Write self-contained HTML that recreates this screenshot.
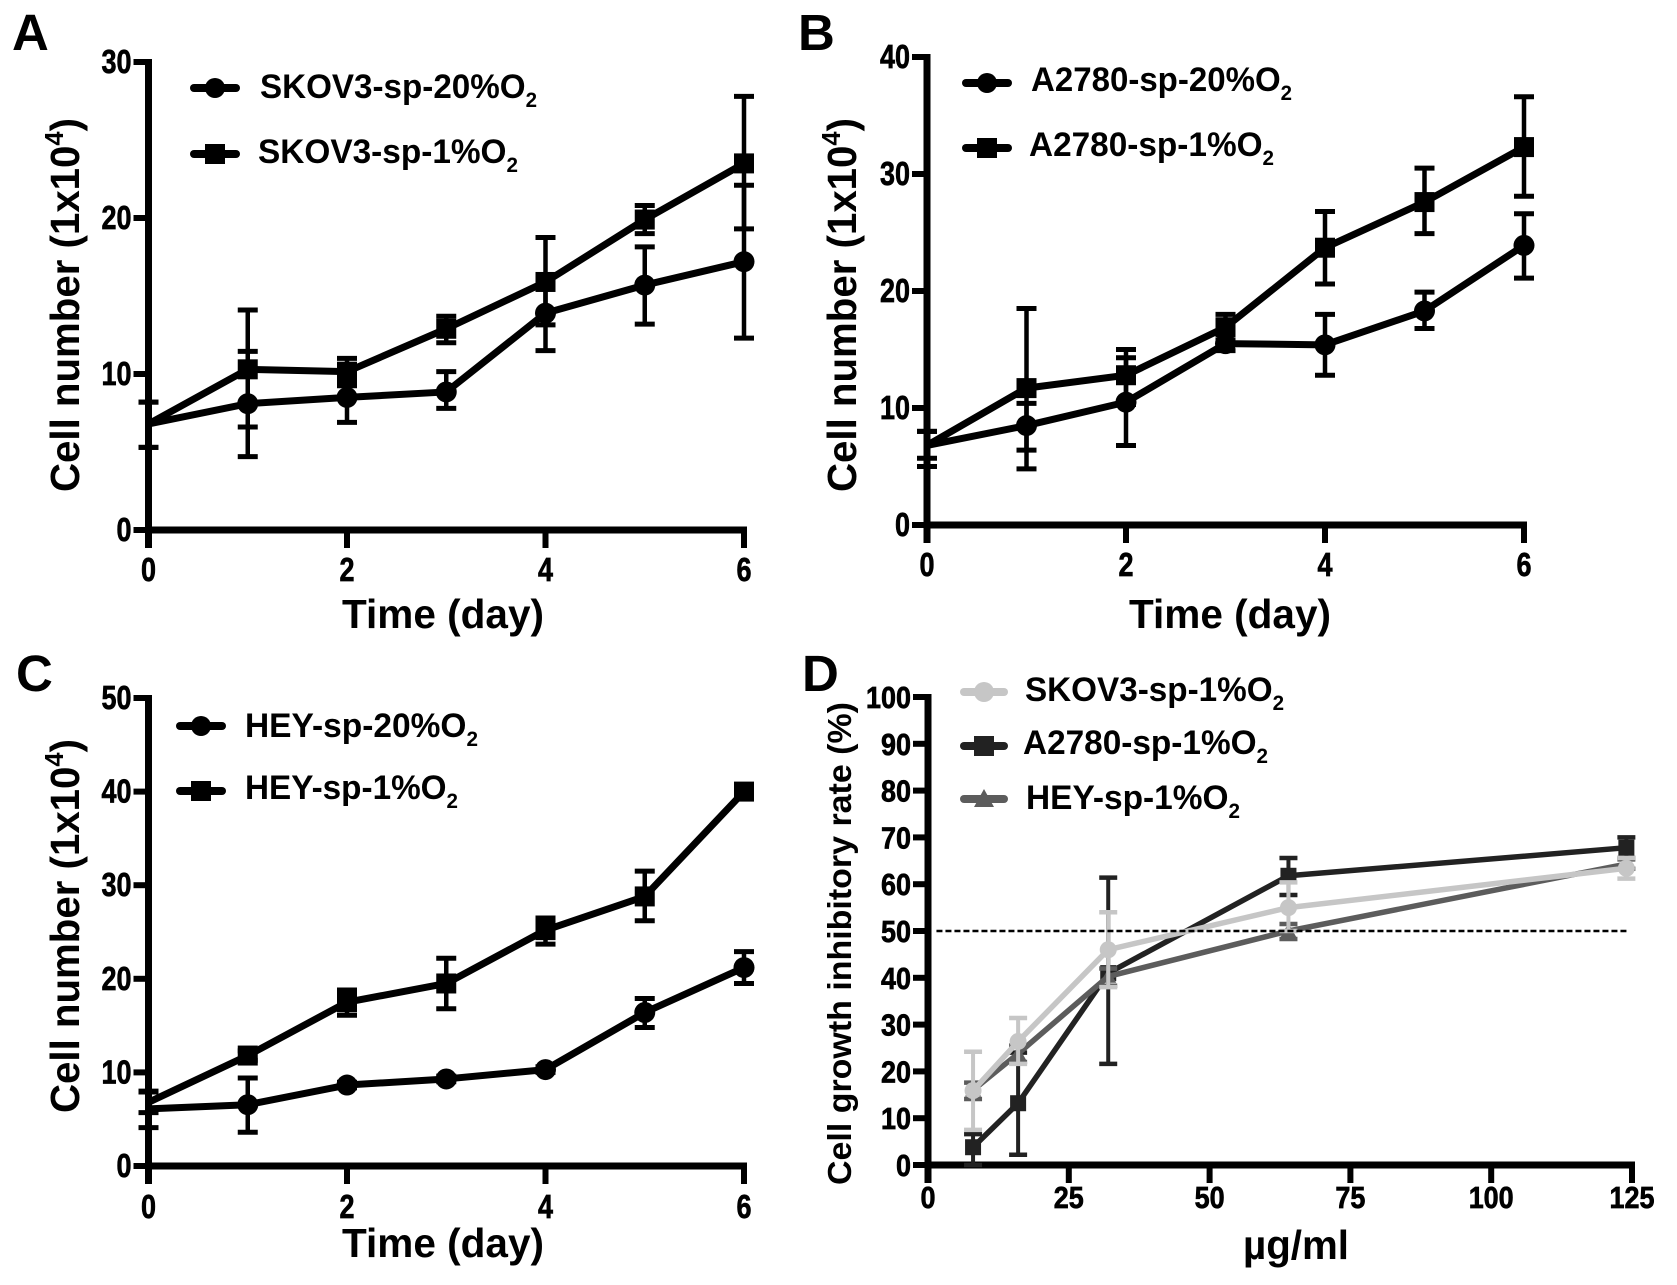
<!DOCTYPE html>
<html lang="en">
<head>
<meta charset="utf-8">
<title>Cell growth panels</title>
<style>
html,body{margin:0;padding:0;background:#fff;width:1677px;height:1285px;overflow:hidden}
svg{display:block}
text{font-family:"Liberation Sans",sans-serif;font-weight:bold;fill:#000}
</style>
</head>
<body>
<svg id="figure" xmlns="http://www.w3.org/2000/svg" width="1677" height="1285" viewBox="0 0 1677 1285">
<text x="12" y="50" font-size="51">A</text>
<text x="798" y="50" font-size="51">B</text>
<text x="16" y="691" font-size="51">C</text>
<text x="802" y="691" font-size="51">D</text>

<text transform="translate(79,492) rotate(-90)" font-size="41" textLength="374" lengthAdjust="spacingAndGlyphs">Cell number (1x10<tspan font-size="26" dy="-16">4</tspan><tspan dy="16">)</tspan></text>
<text transform="translate(856,492) rotate(-90)" font-size="41" textLength="374" lengthAdjust="spacingAndGlyphs">Cell number (1x10<tspan font-size="26" dy="-16">4</tspan><tspan dy="16">)</tspan></text>
<text transform="translate(79,1113) rotate(-90)" font-size="41" textLength="374" lengthAdjust="spacingAndGlyphs">Cell number (1x10<tspan font-size="26" dy="-16">4</tspan><tspan dy="16">)</tspan></text>
<text transform="translate(851,1185) rotate(-90)" font-size="33" textLength="483" lengthAdjust="spacingAndGlyphs">Cell growth inhibitory rate (%)</text>

<text x="342" y="628" font-size="41" textLength="202" lengthAdjust="spacingAndGlyphs">Time (day)</text>
<text x="1129" y="628" font-size="41" textLength="202" lengthAdjust="spacingAndGlyphs">Time (day)</text>
<text x="342" y="1257" font-size="41" textLength="202" lengthAdjust="spacingAndGlyphs">Time (day)</text>
<text x="1243" y="1259" font-size="41" textLength="106" lengthAdjust="spacingAndGlyphs">µg/ml</text>
<g id="charts"></g>
</svg>
<script>
// Shared tick labels
const timeTicks = [0, 2, 4, 6];
const days = [0, 1, 2, 3, 4, 5, 6];

// Panel A
const aTicksY = [0, 10, 20, 30];
const a20Mean = [6.8, 8.1, 8.5, 8.85, 13.9, 15.7, 17.2];
const a20Low = [5.3, 4.7, 6.9, 7.8, 11.5, 13.2, 12.3];
const a20High = [8.2, 11.45, 9.4, 10.15, 16.2, 18.15, 22.1];
const a1Mean = [6.8, 10.3, 10.15, 12.9, 15.9, 19.9, 23.5];
const a1Low = [5.3, 6.6, 9.25, 12.0, 13.15, 19.0, 19.3];
const a1High = [8.2, 14.1, 11.0, 13.7, 18.75, 20.8, 27.8];

// Panel B
const bTicksY = [0, 10, 20, 30, 40];
const b20Mean = [6.8, 8.5, 10.5, 15.5, 15.4, 18.3, 23.9];
const b20Low = [5.0, 6.4, 6.8, 14.9, 12.8, 16.8, 21.1];
const b20High = [8.0, 10.4, 14.3, 16.8, 18.0, 19.9, 26.6];
const b1Mean = [6.8, 11.7, 12.8, 16.9, 23.7, 27.6, 32.3];
const b1Low = [5.7, 4.8, 10.3, 15.8, 20.6, 24.9, 28.1];
const b1High = [8.0, 18.5, 15.0, 18.0, 26.8, 30.5, 36.6];

// Panel C
const cTicksY = [0, 10, 20, 30, 40, 50];
const c20Mean = [6.1, 6.55, 8.65, 9.3, 10.3, 16.4, 21.2];
const c20Low = [4.1, 3.6, 8.35, 9.0, 10.0, 14.8, 19.5];
const c20High = [8.0, 9.4, 8.95, 9.6, 10.6, 17.9, 22.9];
const c1Mean = [6.8, 11.8, 17.5, 19.5, 25.2, 28.8, 40.0];
const c1Low = [5.7, 11.3, 16.1, 16.8, 23.7, 26.2, 39.8];
const c1High = [7.9, 12.3, 18.8, 22.2, 26.5, 31.5, 40.2];

// Panel D
const doseTicks = [0, 25, 50, 75, 100, 125];
const dTicksY = [0, 10, 20, 30, 40, 50, 60, 70, 80, 90, 100];
const doses = [8, 16, 32, 64, 124];
const cutoffLine = [1.5, 124.5];
const cutoffValue = 50;
const dSkovMean = [15.9, 26.4, 46, 55, 63.4];
const dSkovLow = [7.5, 21.6, 38, 50, 61.2];
const dSkovHigh = [24.2, 31.4, 54, 60.4, 65.6];
const dHeyMean = [16, 23.8, 40.3, 50, 64.3];
const dHeyLow = [14.1, 22, 38.3, 48.3, 63.3];
const dHeyHigh = [17.6, 25.5, 42, 51.5, 65.3];
const dA2780Mean = [3.8, 13.2, 41, 61.8, 67.8];
const dA2780Low = [0, 2.2, 21.6, 57.7, 65.6];
const dA2780High = [6.6, 24, 61.4, 65.6, 70];

const NS = 'http://www.w3.org/2000/svg';
const root = document.getElementById('charts');

function mk(tag, attrs, parent) {
  const el = document.createElementNS(NS, tag);
  for (const k in attrs) el.setAttribute(k, attrs[k]);
  (parent || root).appendChild(el);
  return el;
}

function scale(d0, d1, r0, r1) {
  return function (v) { return r0 + (v - d0) * (r1 - r0) / (d1 - d0); };
}

function drawMarker(g, shape, x, y, size, color) {
  let el;
  if (shape === 'circle') {
    el = mk('circle', { cx: x, cy: y, r: size, fill: color }, g);
  } else if (shape === 'square') {
    el = mk('rect', { x: x - size, y: y - size, width: size * 2, height: size * 2, fill: color }, g);
  } else {
    el = mk('polygon', { points: (x - size) + ',' + (y + size * 0.8) + ' ' + (x + size) + ',' + (y + size * 0.8) + ' ' + x + ',' + (y - size), fill: color }, g);
  }
  
  
}

function drawAxes(p) {
  const sx = scale(p.xMin, p.xMax, p.x0, p.x1);
  const sy = scale(0, p.yMax, p.y0, p.y1);
  const g = mk('g', {});
  
  

  const yAxis = mk('line', { x1: p.x0, x2: p.x0, y1: sy(p.yMax) - 3, y2: p.y0 + 18, stroke: '#000', 'stroke-width': 7 }, g);
  
  

  const xAxis = mk('line', { x1: p.x0, x2: p.x1 + 3, y1: p.y0, y2: p.y0, stroke: '#000', 'stroke-width': 7 }, g);
  
  

  p.yTicks.forEach(function (t) {
    const tick = mk('line', { x1: p.x0 - 15, x2: p.x0, y1: sy(t), y2: sy(t), stroke: '#000', 'stroke-width': 6 }, g);
    
    
    const label = mk('text', { x: p.x0 - 17, y: sy(t) + 11, 'font-size': p.tickSize, 'text-anchor': 'end', textLength: String(t).length * 15, lengthAdjust: 'spacingAndGlyphs', stroke: '#000', 'stroke-width': 0.7 }, g);
    label.textContent = t;
    
    
  });

  p.xTicks.forEach(function (t) {
    const tick = mk('line', { x1: sx(t), x2: sx(t), y1: p.y0, y2: p.y0 + 18, stroke: '#000', 'stroke-width': 6 }, g);
    
    
    const label = mk('text', { x: sx(t), y: p.labelY, 'font-size': p.tickSize, 'text-anchor': 'middle', textLength: String(t).length * 15, lengthAdjust: 'spacingAndGlyphs', stroke: '#000', 'stroke-width': 0.7 }, g);
    label.textContent = t;
    
    
  });
}

function drawSeries(p, s) {
  const sx = scale(p.xMin, p.xMax, p.x0, p.x1);
  const sy = scale(0, p.yMax, p.y0, p.y1);
  const g = mk('g', {});
  
  

  p.xs.forEach(function (xv, i) {
    const x = sx(xv);
    const stem = mk('line', { x1: x, x2: x, y1: sy(s.low[i]), y2: sy(s.high[i]), stroke: s.color, 'stroke-width': p.errWidth }, g);
    
    
    [s.low[i], s.high[i]].forEach(function (v) {
      const cap = mk('line', { x1: x - p.capHalf, x2: x + p.capHalf, y1: sy(v), y2: sy(v), stroke: s.color, 'stroke-width': p.errWidth + 0.5 }, g);
      
      
    });
  });

  const pts = p.xs.map(function (xv, i) { return sx(xv) + ',' + sy(s.mean[i]); }).join(' ');
  const line = mk('polyline', { points: pts, fill: 'none', stroke: s.color, 'stroke-width': p.lineWidth, 'stroke-linejoin': 'round' }, g);
  
  

  p.xs.forEach(function (xv, i) {
    // the marker on the y axis (x = 0) is not drawn in the figure
    if (xv === p.xMin) return;
    drawMarker(g, s.shape, sx(xv), sy(s.mean[i]), s.shape === 'circle' ? p.markerSize : p.markerSize - 0.5, s.color);
  });
}

function drawLegendEntry(e) {
  const g = mk('g', {});
  
  
  const ln = mk('line', { x1: e.x1, x2: e.x2, y1: e.y, y2: e.y, stroke: e.color, 'stroke-width': 8, 'stroke-linecap': 'round' }, g);
  
  
  drawMarker(g, e.shape, (e.x1 + e.x2) / 2, e.y, 10, e.color);
  const t = mk('text', { x: e.tx, y: e.ty, 'font-size': 34, textLength: e.tw, lengthAdjust: 'spacingAndGlyphs' }, g);
  
  
  t.appendChild(document.createTextNode(e.label + 'O'));
  const sub = mk('tspan', { 'font-size': 21, dy: 9 }, t);
  sub.textContent = '2';
}

const panelA = { id: 'a', x0: 148.5, x1: 744, y0: 530, y1: 62, xMin: 0, xMax: 6, yMax: 30, yTicks: aTicksY, xTicks: timeTicks, xs: days, labelY: 581, tickSize: 33, errWidth: 4.5, capHalf: 10, lineWidth: 7, markerSize: 10.5 };
const panelB = { id: 'b', x0: 927, x1: 1524, y0: 525, y1: 57, xMin: 0, xMax: 6, yMax: 40, yTicks: bTicksY, xTicks: timeTicks, xs: days, labelY: 576, tickSize: 33, errWidth: 4.5, capHalf: 10, lineWidth: 7, markerSize: 10.5 };
const panelC = { id: 'c', x0: 148.5, x1: 744, y0: 1166, y1: 698, xMin: 0, xMax: 6, yMax: 50, yTicks: cTicksY, xTicks: timeTicks, xs: days, labelY: 1218, tickSize: 33, errWidth: 4.5, capHalf: 10, lineWidth: 7, markerSize: 10.5 };
const panelD = { id: 'd', x0: 928, x1: 1632, y0: 1165, y1: 697, xMin: 0, xMax: 125, yMax: 100, yTicks: dTicksY, xTicks: doseTicks, xs: doses, labelY: 1208, tickSize: 31, errWidth: 4, capHalf: 9, lineWidth: 5.5, markerSize: 8.5 };

[panelA, panelB, panelC, panelD].forEach(drawAxes);

drawSeries(panelA, { name: 'skov3-20', mean: a20Mean, low: a20Low, high: a20High, color: '#000', shape: 'circle' });
drawSeries(panelA, { name: 'skov3-1', mean: a1Mean, low: a1Low, high: a1High, color: '#000', shape: 'square' });
drawSeries(panelB, { name: 'a2780-20', mean: b20Mean, low: b20Low, high: b20High, color: '#000', shape: 'circle' });
drawSeries(panelB, { name: 'a2780-1', mean: b1Mean, low: b1Low, high: b1High, color: '#000', shape: 'square' });
drawSeries(panelC, { name: 'hey-20', mean: c20Mean, low: c20Low, high: c20High, color: '#000', shape: 'circle' });
drawSeries(panelC, { name: 'hey-1', mean: c1Mean, low: c1Low, high: c1High, color: '#000', shape: 'square' });
drawSeries(panelD, { name: 'a2780-dose', mean: dA2780Mean, low: dA2780Low, high: dA2780High, color: '#222', shape: 'square' });
drawSeries(panelD, { name: 'hey-dose', mean: dHeyMean, low: dHeyLow, high: dHeyHigh, color: '#5c5c5c', shape: 'triangle' });
drawSeries(panelD, { name: 'skov3-dose', mean: dSkovMean, low: dSkovLow, high: dSkovHigh, color: '#c6c6c6', shape: 'circle' });

const sxD = scale(panelD.xMin, panelD.xMax, panelD.x0, panelD.x1);
const syD = scale(0, panelD.yMax, panelD.y0, panelD.y1);
const cutoff = mk('line', { x1: sxD(cutoffLine[0]), x2: sxD(cutoffLine[1]), y1: syD(cutoffValue), y2: syD(cutoffValue), stroke: '#000', 'stroke-width': 2.5, 'stroke-dasharray': '6 3' });



drawLegendEntry({ label: 'SKOV3-sp-20%', x1: 194, x2: 236, y: 88, tx: 260, ty: 98, tw: 277, color: '#000', shape: 'circle' });
drawLegendEntry({ label: 'SKOV3-sp-1%', x1: 194, x2: 236, y: 154, tx: 258, ty: 163, tw: 260, color: '#000', shape: 'square' });
drawLegendEntry({ label: 'A2780-sp-20%', x1: 966, x2: 1008, y: 83, tx: 1031, ty: 91, tw: 261, color: '#000', shape: 'circle' });
drawLegendEntry({ label: 'A2780-sp-1%', x1: 966, x2: 1008, y: 148, tx: 1029, ty: 156, tw: 245, color: '#000', shape: 'square' });
drawLegendEntry({ label: 'HEY-sp-20%', x1: 180, x2: 222, y: 726, tx: 245, ty: 737, tw: 233, color: '#000', shape: 'circle' });
drawLegendEntry({ label: 'HEY-sp-1%', x1: 180, x2: 222, y: 791, tx: 245, ty: 799, tw: 213, color: '#000', shape: 'square' });
drawLegendEntry({ label: 'SKOV3-sp-1%', x1: 964, x2: 1004, y: 692, tx: 1025, ty: 701, tw: 259, color: '#c6c6c6', shape: 'circle' });
drawLegendEntry({ label: 'A2780-sp-1%', x1: 964, x2: 1004, y: 746, tx: 1023, ty: 754, tw: 245, color: '#222', shape: 'square' });
drawLegendEntry({ label: 'HEY-sp-1%', x1: 964, x2: 1004, y: 799, tx: 1026, ty: 809, tw: 214, color: '#5c5c5c', shape: 'triangle' });
</script>
</body>
</html>
